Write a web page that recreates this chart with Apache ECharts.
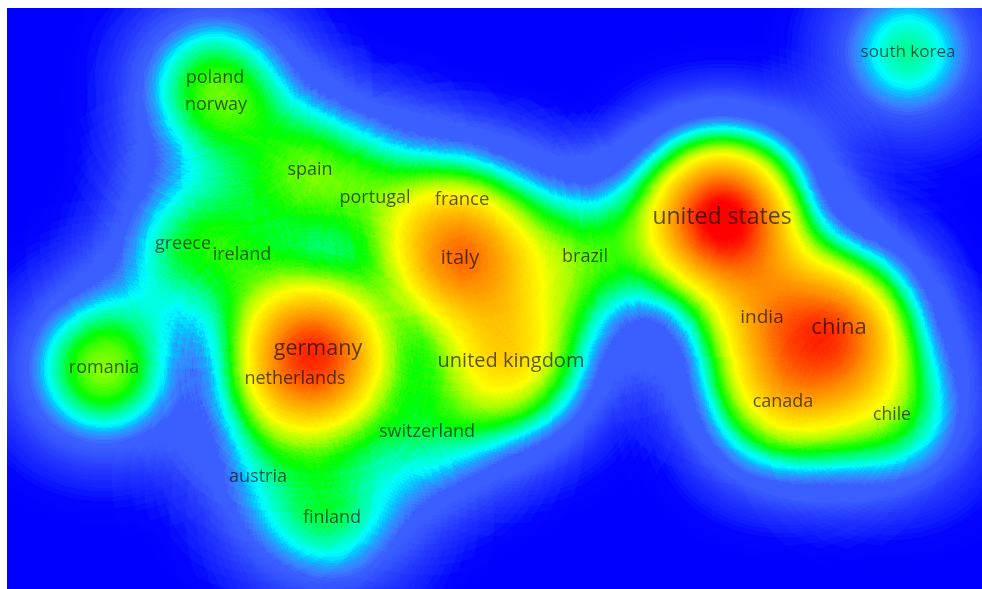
<!DOCTYPE html>
<html>
<head>
<meta charset="utf-8">
<script src="https://cdn.jsdelivr.net/npm/echarts@6/dist/echarts.min.js"></script>
<style>
  html, body { margin: 0; padding: 0; background: #ffffff; }
  #chart { width: 982px; height: 589px; }
</style>
</head>
<body>
<div id="chart"></div>
<script>
// Country co-authorship density map.
// Item coordinates are in map units (x to the right, y downward) on a 975 x 581 plane.
const countries = [
  'south korea', 'poland', 'norway', 'spain', 'portugal', 'france', 'greece',
  'ireland', 'italy', 'brazil', 'united states', 'india', 'china', 'germany',
  'netherlands', 'romania', 'united kingdom', 'canada', 'chile', 'switzerland',
  'austria', 'finland'
];
const mapX = [901, 208, 209, 303, 368, 455, 176, 235, 453, 578, 715, 755, 832, 311, 288, 97, 504, 776, 885, 420, 251, 325];
const mapY = [44, 70, 97, 162, 190, 192, 236, 247, 250, 249, 209, 310, 320, 341, 371, 360, 353, 394, 407, 424, 469, 510];
// Relative item weight (0..1) used for the kernel density.
const weights = [0.27, 0.2, 0.2, 0.3, 0.18, 0.15, 0.24, 0.17, 0.7, 0.34, 1.0, 0.4, 0.7, 0.72, 0.35, 0.4, 0.52, 0.45, 0.3, 0.24, 0.13, 0.27];

const PLANE_W = 975;
const PLANE_H = 581;

// Label font sizes; items not listed use the default size.
const DEFAULT_LABEL_SIZE = 18;
const labelSize = {
  'united states': 23, 'china': 22, 'germany': 21.5, 'italy': 20,
  'united kingdom': 20, 'france': 18.5, 'india': 19, 'south korea': 17, 'chile': 17.5
};

// Core density kernel and its colour scale (level 1 = peak of a full-weight item).
const CORE_POINT = 48;
const CORE_BLUR = 92;
const coreStops = [
  [0.13, '#3a5eff'],
  [0.155, '#3a80ff'],
  [0.18, '#1ea4ff'],
  [0.20, '#00d0ff'],
  [0.22, '#00ffff'],
  [0.27, '#00ff9c'],
  [0.33, '#00ff00'],
  [0.42, '#a8ff00'],
  [0.50, '#ffff00'],
  [0.62, '#ffc800'],
  [0.76, '#ff8c00'],
  [0.88, '#ff4a00'],
  [1.00, '#ff0000']
];

// Wider, soft kernel for the blue halo that fades out around the clusters.
const HALO_POINT = 60;
const HALO_BLUR = 116;
const haloStops = [
  [0.00, '#0000ff'],
  [0.028, '#0204ff'],
  [0.06, '#1020ff'],
  [0.11, '#2438ff'],
  [0.16, '#3454ff'],
  [0.19, '#3a5eff'],
  [1.00, '#3a5eff']
];

function peakAlpha(p, b) {
  const s = b / 2;
  return 1 - Math.exp(-(p * p) / (2 * s * s));
}
function hexToRgb(h) {
  return [parseInt(h.slice(1, 3), 16), parseInt(h.slice(3, 5), 16), parseInt(h.slice(5, 7), 16)];
}
// Spread colour stops (given in kernel levels) over the heat layer's alpha range [0, 1];
// levels below the first stop stay transparent.
function buildPalette(stops, peak, steps) {
  const out = [];
  for (let k = 0; k <= steps; k++) {
    const level = (k / steps) / peak;
    if (level < stops[0][0]) { out.push('rgba(0,0,0,0)'); continue; }
    let c;
    if (level >= stops[stops.length - 1][0]) {
      c = hexToRgb(stops[stops.length - 1][1]);
    } else {
      let j = 0;
      while (stops[j + 1][0] < level) j++;
      const [l0, c0] = stops[j];
      const [l1, c1] = stops[j + 1];
      const f = (level - l0) / (l1 - l0);
      const a = hexToRgb(c0), b = hexToRgb(c1);
      c = a.map((v, i) => Math.round(v + (b[i] - v) * f));
    }
    out.push('rgb(' + c.join(',') + ')');
  }
  return out;
}

echarts.registerMap('plane', {
  type: 'FeatureCollection',
  features: [{
    type: 'Feature',
    properties: { name: 'plane' },
    geometry: {
      type: 'Polygon',
      coordinates: [[[0, 0], [PLANE_W, 0], [PLANE_W, -PLANE_H], [0, -PLANE_H], [0, 0]]]
    }
  }]
});

const heatData = countries.map((c, i) => [mapX[i], -mapY[i], weights[i]]);
const labelData = countries.map((c, i) => ({
  name: c,
  value: [mapX[i], -mapY[i]],
  label: { fontSize: labelSize[c] || DEFAULT_LABEL_SIZE }
}));

const chart = echarts.init(document.getElementById('chart'), null, { renderer: 'canvas' });
chart.setOption({
  backgroundColor: '#ffffff',
  animation: false,
  geo: {
    map: 'plane',
    left: 7,
    top: 8,
    width: PLANE_W,
    height: PLANE_H,
    aspectScale: 1,
    roam: false,
    silent: true,
    label: { show: false },
    itemStyle: { areaColor: '#0000ff', borderWidth: 0, borderColor: 'transparent' },
    emphasis: { disabled: true },
    select: { disabled: true }
  },
  visualMap: [
    {
      show: false, type: 'continuous', min: 0, max: 1, seriesIndex: 0,
      inRange: { color: buildPalette(haloStops, peakAlpha(HALO_POINT, HALO_BLUR), 255) }
    },
    {
      show: false, type: 'continuous', min: 0, max: 1, seriesIndex: 1,
      inRange: { color: buildPalette(coreStops, peakAlpha(CORE_POINT, CORE_BLUR), 255) }
    }
  ],
  series: [
    {
      name: 'halo',
      type: 'heatmap',
      coordinateSystem: 'geo',
      geoIndex: 0,
      pointSize: HALO_POINT,
      blurSize: HALO_BLUR,
      minOpacity: 1,
      maxOpacity: 1,
      silent: true,
      data: heatData
    },
    {
      name: 'density',
      type: 'heatmap',
      coordinateSystem: 'geo',
      geoIndex: 0,
      pointSize: CORE_POINT,
      blurSize: CORE_BLUR,
      minOpacity: 1,
      maxOpacity: 1,
      silent: true,
      data: heatData
    },
    {
      type: 'scatter',
      coordinateSystem: 'geo',
      geoIndex: 0,
      symbol: 'circle',
      symbolSize: 1,
      silent: true,
      itemStyle: { color: 'transparent' },
      label: {
        show: true,
        position: 'inside',
        formatter: '{b}',
        color: 'rgba(0,0,0,0.8)',
        fontFamily: '"Open Sans", "Noto Sans", sans-serif',
        fontSize: DEFAULT_LABEL_SIZE
      },
      emphasis: { disabled: true },
      data: labelData,
      z: 5
    }
  ]
});
</script>
</body>
</html>
